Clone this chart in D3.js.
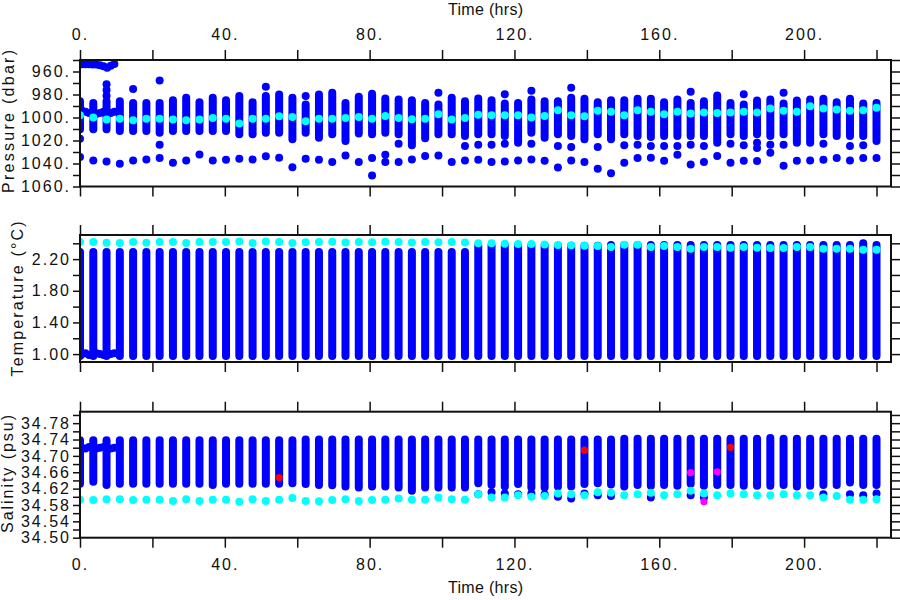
<!DOCTYPE html>
<html><head><meta charset="utf-8">
<script src="https://cdn.jsdelivr.net/npm/d3@7"></script>
<style>
body{margin:0;background:#fff}
text{font-family:"Liberation Sans",Arial,Helvetica,sans-serif;fill:#111}
</style>
</head><body>
<svg id="chart" width="900" height="600"></svg>
<script>
// ---------------- DATA ----------------
const hours = [0,3.67,7.33,11,14.67,18.33,22,25.67,29.33,33,36.67,40.33,44,47.67,51.33,55,58.67,62.33,66,69.67,73.33,77,80.67,84.33,88,91.67,95.33,99,102.67,106.33,110,113.67,117.33,121,124.67,128.33,132,135.67,139.33,143,146.67,150.33,154,157.67,161.33,165,168.67,172.33,176,179.67,183.33,187,190.67,194.33,198,201.67,205.33,209,212.67,216.33,220];

// Pressure (dbar): shallowest / deepest of each dense profile column
const presTop = [985.8,987.3,985.8,985.8,987.3,987.3,987.3,984.9,982.9,986.7,982.9,984.9,981.4,986.7,981.4,980.0,982.9,988.7,980.0,978.5,987.3,982.0,979.4,983.5,984.3,984.9,987.3,988.7,982.9,985.8,983.5,984.9,987.8,987.3,984.3,985.8,985.8,982.9,983.8,986.7,984.9,984.9,983.8,983.8,986.7,984.3,987.3,985.8,980.9,987.3,988.7,985.2,984.3,987.8,985.2,984.3,983.8,986.7,983.8,987.8,987.3];
const presBot = [1010.3,1010.3,1010.3,1011.7,1011.7,1011.7,1013.2,1011.7,1011.7,1011.7,1011.7,1011.7,1014.6,1014.6,1013.2,1013.2,1019.0,1013.2,1017.5,1014.6,1020.5,1014.0,1014.6,1013.2,1014.6,1024.2,1018.1,1014.6,1014.6,1016.1,1014.6,1014.6,1016.1,1021.9,1013.2,1017.5,1014.6,1016.1,1019.0,1014.6,1019.0,1014.6,1016.1,1017.0,1016.1,1016.1,1016.1,1016.1,1021.9,1014.6,1016.1,1014.6,1016.1,1014.6,1021.9,1021.9,1014.6,1016.1,1016.1,1016.1,1020.5];
const presCyan = [998.0,1000.1,1001.8,1001.0,1002.4,1001.0,1001.0,1001.8,1002.4,1001.8,1000.4,1001.0,1005.3,1001.0,1001.0,998.9,999.5,1003.3,1001.0,1001.0,1000.4,999.5,1001.0,998.6,1000.4,1001.5,1001.0,997.2,1001.8,1000.4,997.5,998.0,998.0,998.0,1000.1,998.6,993.7,998.0,998.9,994.2,995.1,998.0,993.7,995.1,997.2,995.1,996.6,995.7,996.0,995.7,995.1,995.7,992.2,994.2,995.1,990.2,992.2,993.1,994.2,993.7,991.6];
const presDeep = [1034.4,1037.3,1038.2,1040.2,1037.3,1036.5,1035.3,1039.4,1037.3,1032.1,1037.3,1036.7,1035.9,1036.5,1033.8,1035.0,1043.2,1035.9,1036.7,1038.8,1033.0,1038.8,1035.3,1032.4,1038.8,1036.5,1033.5,1033.0,1038.8,1037.3,1036.7,1038.8,1038.2,1037.3,1036.5,1037.6,1043.4,1037.3,1038.8,1044.6,1048.4,1039.4,1035.3,1035.0,1037.6,1032.4,1040.8,1038.8,1033.5,1039.4,1037.6,1037.9,1030.6,1042.0,1037.6,1037.3,1036.7,1035.3,1037.3,1035.3,1035.3];
const presExtraHours = [0,7.33,7.33,7.33,14.67,22,22,51.33,62.33,88,99,106.33,110,113.67,117.33,117.33,124.67,124.67,132,135.67,135.67,143,150.33,154,157.67,161.33,165,168.67,168.67,172.33,179.67,183.33,183.33,187,187,190.67,194.33,194.33,205.33,212.67,216.33,80.67,84.33];
const presExtraVals  = [1018.4,971,976,981,975.3,967.8,1023.6,973.3,981.2,1022.8,978.5,1024.8,1023.6,1023.6,979.7,1022.8,976.8,1022.8,1024.8,974.2,1025.7,1025.7,1024.2,1023.6,1024.8,1024.8,1024.8,977.7,1023.6,1024.8,1022.8,979.7,1024.2,1021.9,1026.6,1023.6,978.5,1023.6,1022.8,1024.8,1024.2,1050.4,1038.8];

// First ~10 hours: continuous record
const earlyHours   = [0.5,1.5,2.5,3.5,4.5,5.5,6.5,7.5,8.5,9.5];
const earlyPresTop = [953.8,953.8,953.8,954.0,954.0,954.5,955.5,956.8,955.0,953.5];
const earlyPresMid = [994,995,996,996,997,996,995,995,996,995];
const earlyTemp    = [1.00,1.01,0.99,1.00,1.01,1.00,0.99,1.01,1.00,1.01];
const earlySal     = [34.720,34.718,34.722,34.720,34.718,34.720,34.722,34.720,34.718,34.720];

// Temperature (°C)
const tempTop = [2.29,2.29,2.29,2.29,2.29,2.29,2.29,2.29,2.29,2.29,2.29,2.29,2.29,2.29,2.29,2.29,2.29,2.29,2.29,2.29,2.29,2.29,2.29,2.29,2.29,2.29,2.29,2.29,2.29,2.29,2.37,2.37,2.37,2.37,2.37,2.37,2.37,2.37,2.37,2.37,2.38,2.38,2.38,2.38,2.38,2.38,2.38,2.38,2.38,2.38,2.38,2.38,2.38,2.38,2.38,2.38,2.38,2.38,2.38,2.40,2.38];
const tempBot = [0.975,0.975,0.975,0.975,0.975,0.975,0.975,0.975,0.975,0.975,0.975,0.975,0.975,0.975,0.975,0.975,0.975,0.975,0.975,0.975,0.975,0.975,0.975,0.975,0.975,0.975,0.975,0.975,0.975,0.975,0.975,0.975,0.975,0.975,0.975,0.975,0.975,0.975,0.975,0.975,0.975,0.975,0.975,0.975,0.975,0.975,0.975,0.975,0.975,0.975,0.975,0.975,0.975,0.975,0.975,0.975,0.975,0.975,0.975,0.975,0.975];
const tempCyan = [2.416,2.416,2.408,2.404,2.416,2.408,2.416,2.416,2.404,2.416,2.416,2.416,2.424,2.404,2.424,2.416,2.404,2.412,2.416,2.420,2.410,2.416,2.412,2.420,2.416,2.410,2.416,2.412,2.416,2.410,2.400,2.400,2.395,2.390,2.390,2.385,2.380,2.375,2.370,2.365,2.353,2.382,2.382,2.353,2.366,2.353,2.332,2.353,2.353,2.345,2.353,2.345,2.341,2.341,2.353,2.353,2.332,2.332,2.332,2.320,2.320];

// Salinity (psu)
const salTop = [34.738,34.738,34.738,34.738,34.738,34.738,34.738,34.738,34.738,34.738,34.738,34.738,34.738,34.738,34.738,34.738,34.738,34.740,34.740,34.740,34.740,34.740,34.740,34.740,34.740,34.740,34.740,34.740,34.740,34.740,34.740,34.740,34.740,34.740,34.740,34.740,34.740,34.740,34.740,34.740,34.740,34.742,34.742,34.742,34.742,34.742,34.742,34.742,34.742,34.742,34.742,34.742,34.744,34.742,34.742,34.742,34.742,34.742,34.742,34.742,34.742];
const salBot = [34.632,34.637,34.629,34.632,34.632,34.632,34.632,34.632,34.632,34.632,34.629,34.632,34.632,34.632,34.632,34.632,34.633,34.631,34.629,34.628,34.625,34.623,34.625,34.625,34.623,34.615,34.623,34.623,34.623,34.623,34.633,34.629,34.625,34.631,34.623,34.623,34.625,34.625,34.631,34.633,34.630,34.625,34.629,34.627,34.629,34.627,34.632,34.627,34.629,34.629,34.627,34.627,34.627,34.629,34.625,34.627,34.629,34.629,34.635,34.629,34.629];
const salCyan = [34.593,34.592,34.594,34.594,34.592,34.593,34.593,34.590,34.594,34.590,34.593,34.593,34.588,34.594,34.590,34.593,34.597,34.590,34.589,34.592,34.594,34.590,34.592,34.593,34.596,34.593,34.593,34.598,34.594,34.593,34.606,34.598,34.598,34.604,34.600,34.602,34.608,34.606,34.604,34.611,34.610,34.604,34.606,34.610,34.604,34.606,34.615,34.608,34.604,34.608,34.606,34.604,34.604,34.606,34.604,34.604,34.598,34.602,34.593,34.593,34.594];
const salExtraHours = [110,113.67,117.33,121,124.67,128.33,132,135.67,139.33,143,146.67,157.67,168.67,172.33,205.33,212.67,216.33,220];
const salExtraVals  = [34.606,34.611,34.608,34.606,34.608,34.606,34.600,34.596,34.608,34.604,34.602,34.598,34.604,34.598,34.606,34.606,34.604,34.608];
const flagHours = [55,139.33,168.67,172.33,176,179.67];
const flagSal   = [34.647,34.714,34.659,34.588,34.661,34.721];
const flagType  = ["bad","bad","doubtful","doubtful","doubtful","bad"];

// Axis ticks
const timeTicks  = [0,20,40,60,80,100,120,140,160,180,200,220];
const timeLabels = [0,40,80,120,160,200];
const presTicks  = [950,960,970,980,990,1000,1010,1020,1030,1040,1050,1060];
const presLabels = [960,980,1000,1020,1040,1060];
const tempTicks  = [1.0,1.2,1.4,1.6,1.8,2.0,2.2,2.4];
const tempLabels = [1.0,1.4,1.8,2.2];
const salTicks   = [34.50,34.52,34.54,34.56,34.58,34.60,34.62,34.64,34.66,34.68,34.70,34.72,34.74,34.76,34.78,34.80];
const salLabels  = [34.50,34.54,34.58,34.62,34.66,34.70,34.74,34.78];

// ---------------- DRAW ----------------
const BLUE="#0000ff", CYAN="#00ffff";
const flagColor = d3.scaleOrdinal().domain(["bad","doubtful"]).range(["#ff0000","#ff00ff"]);
const R = 4;
const svg = d3.select("#chart");
const X0 = 80, X1 = 891;
const x = d3.scaleLinear().domain([0,224]).range([X0,X1]);

const panels = [
  {id:"p", y:d3.scaleLinear().domain([950,1060]).range([60,186.5]), ticks:presTicks, labels:presLabels, fmt:d=>d+".", title:"Pressure (dbar)", tlen:143, tx:14, ty:121.5},
  {id:"t", y:d3.scaleLinear().domain([0.9,2.505]).range([362,235]), ticks:tempTicks, labels:tempLabels, fmt:d3.format(".2f"), title:"Temperature (\u00B0C)", tlen:155, tx:22.5, ty:299},
  {id:"s", y:d3.scaleLinear().domain([34.5,34.808]).range([537.7,411.7]), ticks:salTicks, labels:salLabels, fmt:d3.format(".2f"), title:"Salinity (psu)", tlen:118, tx:13, ty:474}
];
const key = v => Math.round(v*1000);

panels.forEach((p,pi) => {
  const [yt, yb] = d3.extent(p.y.range());
  const g = svg.append("g");
  svg.append("clipPath").attr("id","clip"+p.id)
    .append("rect").attr("x",X0).attr("y",yt).attr("width",X1-X0).attr("height",yb-yt);
  const plot = g.append("g").attr("clip-path",`url(#clip${p.id})`);
  const y = p.y;

  let tops, bots, cyan, exH=[], exV=[];
  if (p.id==="p"){ tops=presTop; bots=presBot; cyan=presCyan; exH=presExtraHours.concat(hours); exV=presExtraVals.concat(presDeep); }
  if (p.id==="t"){ tops=tempTop; bots=tempBot; cyan=tempCyan; }
  if (p.id==="s"){ tops=salTop; bots=salBot; cyan=salCyan; exH=salExtraHours; exV=salExtraVals; }

  plot.selectAll("line.col").data(hours).join("line").attr("class","col")
    .attr("x1",d=>x(d)).attr("x2",d=>x(d))
    .attr("y1",(d,i)=>y(tops[i])).attr("y2",(d,i)=>y(bots[i]))
    .attr("stroke",BLUE).attr("stroke-width",2*R).attr("stroke-linecap","round");
  plot.selectAll("circle.ex").data(exH).join("circle").attr("class","ex")
    .attr("cx",d=>x(d)).attr("cy",(d,i)=>y(exV[i])).attr("r",R).attr("fill",BLUE);
  const earlySeries = p.id==="p" ? [earlyPresTop, earlyPresMid] : p.id==="t" ? [earlyTemp] : [earlySal];
  earlySeries.forEach((vals,k)=>{
    plot.selectAll("circle.early"+k).data(earlyHours).join("circle").attr("class","early"+k)
      .attr("cx",d=>x(d)).attr("cy",(d,i)=>y(vals[i])).attr("r",R).attr("fill",BLUE);
  });
  plot.selectAll("circle.cy").data(hours).join("circle").attr("class","cy")
    .attr("cx",d=>x(d)).attr("cy",(d,i)=>y(cyan[i])).attr("r",R).attr("fill",CYAN);
  if (p.id==="s"){
    plot.selectAll("circle.flag").data(flagHours).join("circle").attr("class","flag")
      .attr("cx",d=>x(d)).attr("cy",(d,i)=>y(flagSal[i])).attr("r",R-0.4).attr("fill",(d,i)=>flagColor(flagType[i]));
  }

  const labelSet = new Set(p.labels.map(key));
  const styleAxis = sel => {
    sel.attr("font-size",16);
    sel.select(".domain").remove();
    sel.selectAll(".tick line").attr("stroke","#111").attr("stroke-width",1.5);
    sel.selectAll(".tick text").style("font-size","16px").style("letter-spacing","2px")
      .style("font-family",'"Liberation Sans",Arial,sans-serif').attr("fill","#111");
  };
  g.append("g").attr("transform",`translate(${X0+1},0)`)
    .call(d3.axisLeft(y).tickValues(p.ticks).tickSize(8).tickPadding(2)
      .tickFormat(d=>labelSet.has(key(d))?p.fmt(d):"")).call(styleAxis);
  g.append("g").attr("transform",`translate(${X1},0)`)
    .call(d3.axisRight(y).tickValues(p.ticks).tickSize(9).tickFormat("")).call(styleAxis);
  const tl = new Set(timeLabels);
  g.append("g").attr("transform",`translate(0,${yt})`)
    .call(d3.axisTop(x).tickValues(timeTicks).tickSize(10).tickPadding(10)
      .tickFormat(d=>(pi===0 && tl.has(d))?d+".":"")).call(styleAxis);
  g.append("g").attr("transform",`translate(0,${yb})`)
    .call(d3.axisBottom(x).tickValues(timeTicks).tickSize(10).tickPadding(11)
      .tickFormat(d=>(pi===2 && tl.has(d))?d+".":"")).call(styleAxis);

  g.append("rect").attr("x",X0).attr("y",yt).attr("width",X1-X0).attr("height",yb-yt)
    .attr("fill","none").attr("stroke","#111").attr("stroke-width",2);

  g.append("text").attr("transform",`translate(${p.tx},${p.ty}) rotate(-90)`)
    .attr("text-anchor","middle").style("font-size","16px")
    .attr("textLength",p.tlen).attr("lengthAdjust","spacing").text(p.title);
});

svg.append("text").attr("x",(X0+X1)/2).attr("y",15).attr("text-anchor","middle")
  .style("font-size","16px").attr("textLength",75).attr("lengthAdjust","spacing").text("Time (hrs)");
svg.append("text").attr("x",(X0+X1)/2).attr("y",593).attr("text-anchor","middle")
  .style("font-size","16px").attr("textLength",75).attr("lengthAdjust","spacing").text("Time (hrs)");
</script>
</body></html>
